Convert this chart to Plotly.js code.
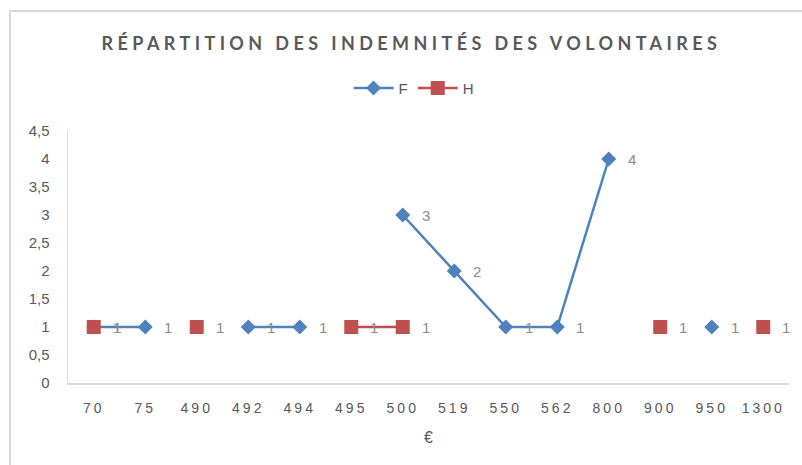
<!DOCTYPE html>
<html>
<head>
<meta charset="utf-8">
<script src="https://cdn.plot.ly/plotly-3.0.1.min.js"></script>
<style>
  html, body { margin: 0; padding: 0; background: #fff; }
  #frame { position: absolute; left: 9px; top: 10px; width: 800px; height: 460px;
           border-left: 2px solid #d9d9d9; border-top: 2px solid #d9d9d9; pointer-events: none; z-index: 5; }
  #chart { position: absolute; left: 0; top: 0; width: 802px; height: 465px; }
  .gtitle { letter-spacing: 4.4px; }
  .xtick text { letter-spacing: 3px; }
</style>
</head>
<body>
<div id="chart"></div>
<div id="frame"></div>
<script>
const categories = ["70", "75", "490", "492", "494", "495", "500", "519", "550", "562", "800", "900", "950", "1300"];
const valuesF = [1, 1, null, 1, 1, null, 3, 2, 1, 1, 4, null, 1, null];
const valuesH = [1, null, 1, null, null, 1, 1, null, null, null, null, 1, null, 1];
const seriesNames = ["F", "H"];
const yTicks = [0, 0.5, 1, 1.5, 2, 2.5, 3, 3.5, 4, 4.5];

const blue = "#4F81BD";
const red = "#C0504D";

const traces = [
  {
    x: categories, y: valuesF, name: seriesNames[0], type: "scatter", mode: "lines+markers",
    connectgaps: false,
    line: { color: blue, width: 2.5 },
    marker: { symbol: "diamond", size: 11.5, color: blue }
  },
  {
    x: categories, y: valuesH, name: seriesNames[1], type: "scatter", mode: "lines+markers",
    connectgaps: false,
    line: { color: red, width: 2.5 },
    marker: { symbol: "square", size: 14, color: red }
  }
];

const annotations = [];
[valuesF, valuesH].forEach(vals => {
  vals.forEach((v, i) => {
    if (v !== null) {
      annotations.push({
        x: i, y: v, xref: "x", yref: "y", text: String(v),
        showarrow: false, xanchor: "left", xshift: 17, yshift: 0,
        font: { family: "Liberation Sans, Arial, sans-serif", size: 15, color: "#8c8c8c" }
      });
    }
  });
});

const layout = {
  width: 802, height: 465,
  margin: { l: 68, r: 13, t: 131, b: 82 },
  paper_bgcolor: "#ffffff", plot_bgcolor: "#ffffff",
  separators: ", ",
  showlegend: true,
  title: {
    text: "RÉPARTITION DES INDEMNITÉS DES VOLONTAIRES",
    font: { family: "Lato, sans-serif", size: 18, color: "#595959", weight: 700 },
    x: 0.513, xanchor: "center", y: 0.907, yanchor: "middle"
  },
  legend: {
    orientation: "h", x: 0.48, xanchor: "center", y: 1.17, yanchor: "middle",
    font: { family: "Liberation Sans, Arial, sans-serif", size: 15, color: "#595959" },
    itemwidth: 40, traceorder: "normal"
  },
  xaxis: {
    type: "category", categoryorder: "array", categoryarray: categories,
    range: [-0.5, categories.length - 0.5], autorange: false,
    showgrid: false, zeroline: false, showline: true, linecolor: "#d9d9d9", linewidth: 1.5,
    ticks: "outside", ticklen: 12, tickcolor: "rgba(0,0,0,0)",
    tickfont: { family: "Liberation Sans, Arial, sans-serif", size: 14, color: "#595959" },
    title: { text: "€", font: { family: "Liberation Sans, Arial, sans-serif", size: 16, color: "#595959" }, standoff: 16 },
    fixedrange: true
  },
  yaxis: {
    range: [0, 4.5], autorange: false, tickvals: yTicks,
    showgrid: false, zeroline: false, showline: true, linecolor: "#d9d9d9", linewidth: 1.5,
    ticks: "outside", ticklen: 14, tickcolor: "rgba(0,0,0,0)",
    tickfont: { family: "Liberation Sans, Arial, sans-serif", size: 15, color: "#595959" },
    fixedrange: true
  },
  annotations: annotations
};

Plotly.newPlot("chart", traces, layout, { displayModeBar: false, staticPlot: true });
</script>
</body>
</html>
